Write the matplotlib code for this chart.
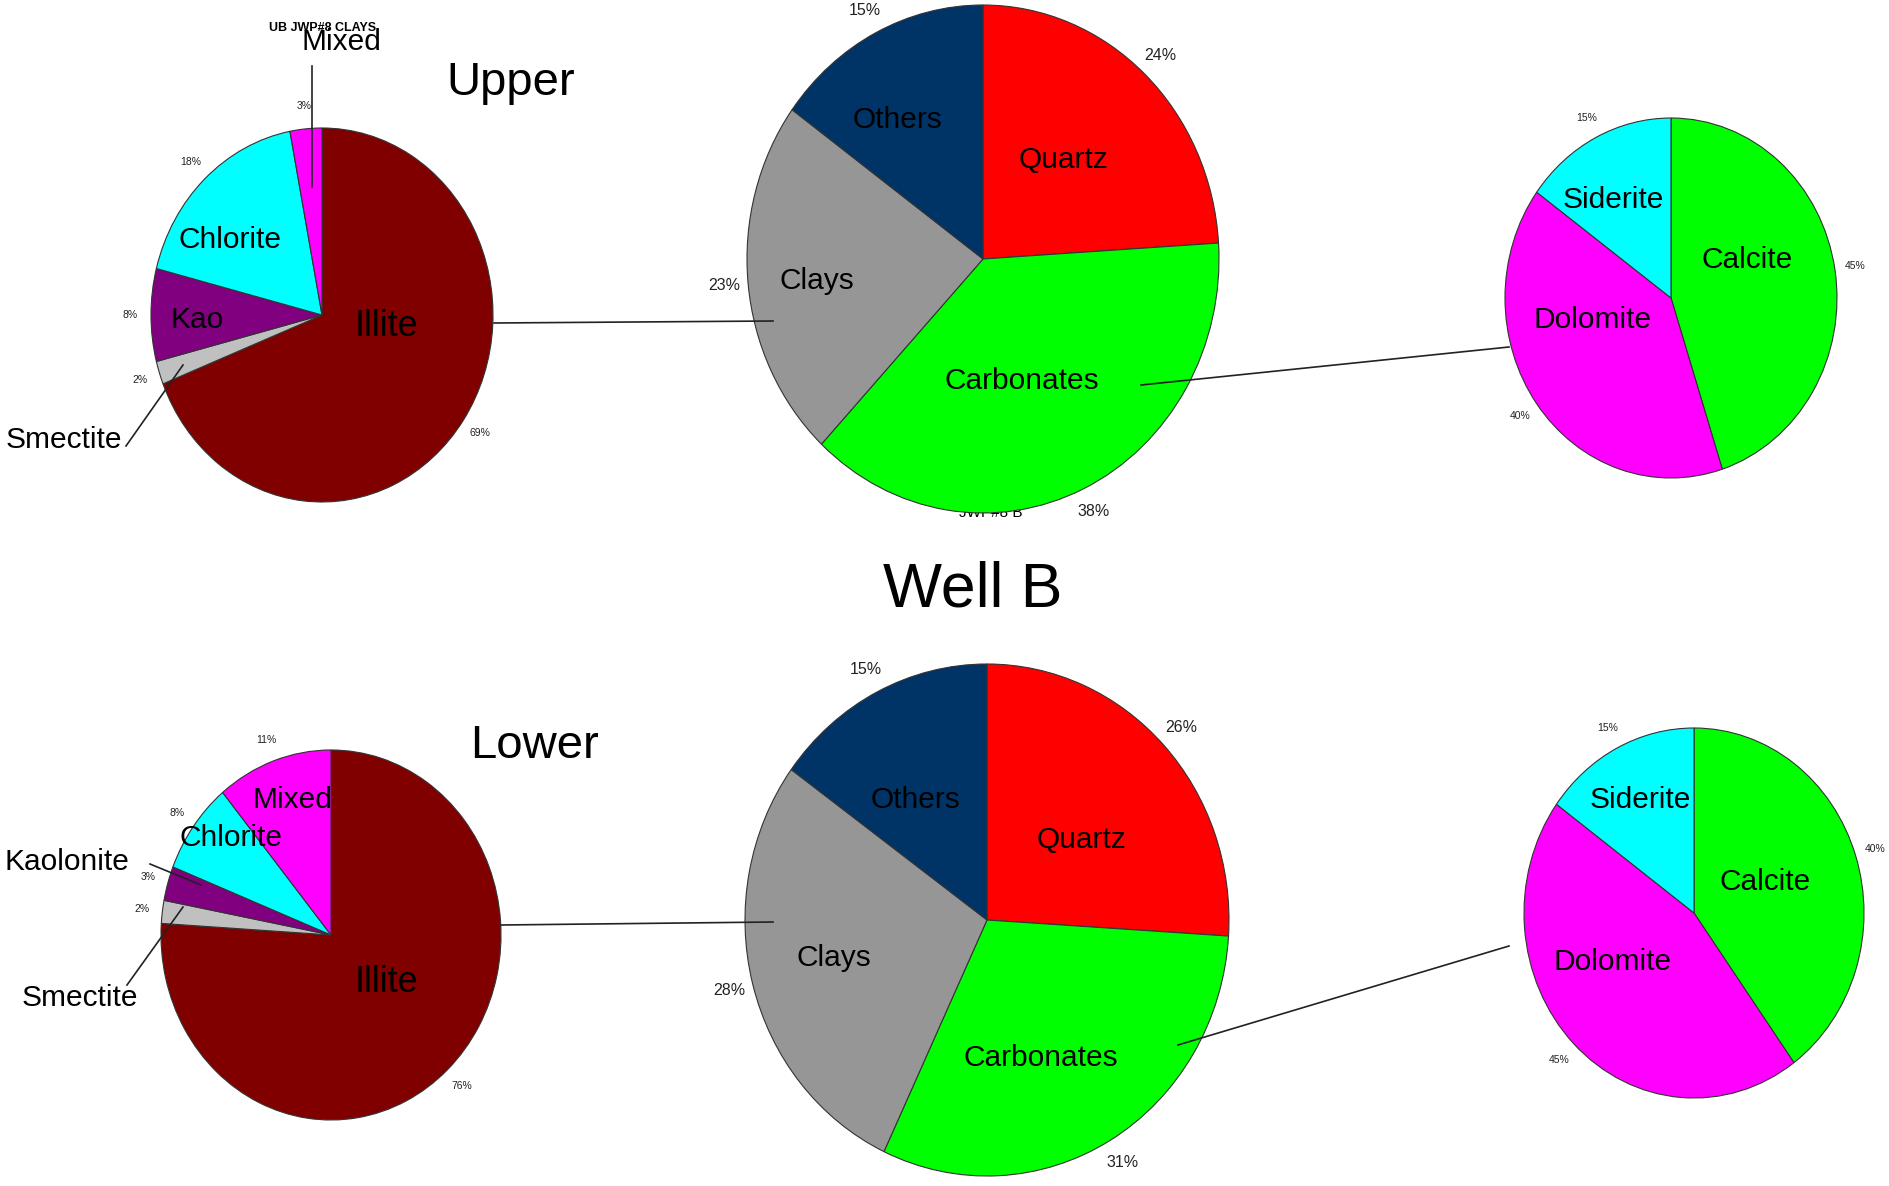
import matplotlib
matplotlib.use("Agg")
import matplotlib.pyplot as plt
from matplotlib.lines import Line2D

plt.rcParams["font.family"] = ["Liberation Sans", "DejaVu Sans"]

W, H = 1889, 1186

# clay fraction pies (left column)
clay_upper_vals = [69, 2, 8, 18, 3]      # Illite, Smectite, Kao, Chlorite, Mixed
clay_lower_vals = [76, 2, 3, 8, 11]      # Illite, Smectite, Kaolonite, Chlorite, Mixed
clay_colors = ["#800000", "#c0c0c0", "#800080", "#00ffff", "#ff00ff"]

# bulk mineralogy pies (middle column)
bulk_upper_vals = [24, 38, 23, 15]       # Quartz, Carbonates, Clays, Others
bulk_lower_vals = [26, 31, 28, 15]
bulk_colors = ["#ff0000", "#00ff00", "#969696", "#003366"]

# carbonate pies (right column)
carb_upper_vals = [45, 40, 15]           # Calcite, Dolomite, Siderite
carb_lower_vals = [40, 45, 15]
carb_colors = ["#00ff00", "#ff00ff", "#00ffff"]

fig = plt.figure(figsize=(W / 100, H / 100), dpi=100)


def fx(x):
    return x / W


def fy(y):
    return 1 - y / H


def pie_axes(cx, cy, rx, ry, vals, colors, pct_size, pct_dist=1.12):
    ax = fig.add_axes([fx(cx - rx), fy(cy + ry), 2 * rx / W, 2 * ry / H])
    ax.pie(vals, colors=colors, startangle=90, counterclock=False, radius=1,
           autopct="%.0f%%", pctdistance=pct_dist,
           wedgeprops=dict(edgecolor="#333333", linewidth=0.8, clip_on=False),
           textprops=dict(fontsize=pct_size, color="#222222"))
    ax.set_aspect("auto")
    ax.set_xlim(-1, 1)
    ax.set_ylim(-1, 1)
    ax.axis("off")
    return ax


def label(x, y, s, size=21.5, **kw):
    fig.text(fx(x), fy(y), s, fontsize=size, ha="center", va="center", **kw)


def link(x0, y0, x1, y1):
    fig.add_artist(Line2D([fx(x0), fx(x1)], [fy(y0), fy(y1)], color="#222222", lw=1.2))


# title half hidden under the upper bulk pie
fig.text(fx(991), fy(513), "JWP#8 B", fontsize=11, ha="center", va="center", zorder=-1)

pie_axes(322, 315, 171, 187, clay_upper_vals, clay_colors, 7.5)
pie_axes(983, 259, 236, 254, bulk_upper_vals, bulk_colors, 11.5, 1.1)
pie_axes(1671, 298, 166, 180, carb_upper_vals, carb_colors, 7.5)
pie_axes(331, 935, 170, 185, clay_lower_vals, clay_colors, 7.5)
pie_axes(987, 920, 242, 256, bulk_lower_vals, bulk_colors, 11.5, 1.1)
pie_axes(1694, 913, 170, 185, carb_lower_vals, carb_colors, 7.5)

# upper row
label(323, 28, "UB JWP#8 CLAYS", size=9, weight="bold")
label(341, 42, "Mixed")
label(386, 326, "Illite", size=26)
label(197, 320, "Kao")
label(230, 240, "Chlorite")
label(64, 440, "Smectite")
link(312, 66, 312, 187)
link(126, 446, 183, 365)
fig.text(fx(511), fy(95), "Upper", fontsize=34, ha="center", va="baseline")

label(897, 120, "Others")
label(1063, 160, "Quartz")
label(817, 281, "Clays")
label(1022, 381, "Carbonates")
link(494, 323, 773, 321)
link(1141, 385, 1509, 347)

label(1613, 200, "Siderite")
label(1747, 260, "Calcite")
label(1593, 320, "Dolomite")

label(973, 590, "Well B", size=45)

# lower row
label(292, 800, "Mixed")
label(231, 838, "Chlorite")
label(67, 862, "Kaolonite")
label(80, 998, "Smectite")
label(386, 982, "Illite", size=26)
link(150, 864, 201, 885)
link(127, 985, 183, 907)
fig.text(fx(534), fy(758), "Lower", fontsize=34, ha="center", va="baseline")

label(915, 800, "Others")
label(1082, 840, "Quartz")
label(834, 958, "Clays")
label(1041, 1058, "Carbonates")
link(501, 925, 773, 922)
link(1178, 1045, 1509, 946)

label(1640, 800, "Siderite")
label(1765, 882, "Calcite")
label(1613, 962, "Dolomite")

plt.savefig("out.png", dpi=100)
